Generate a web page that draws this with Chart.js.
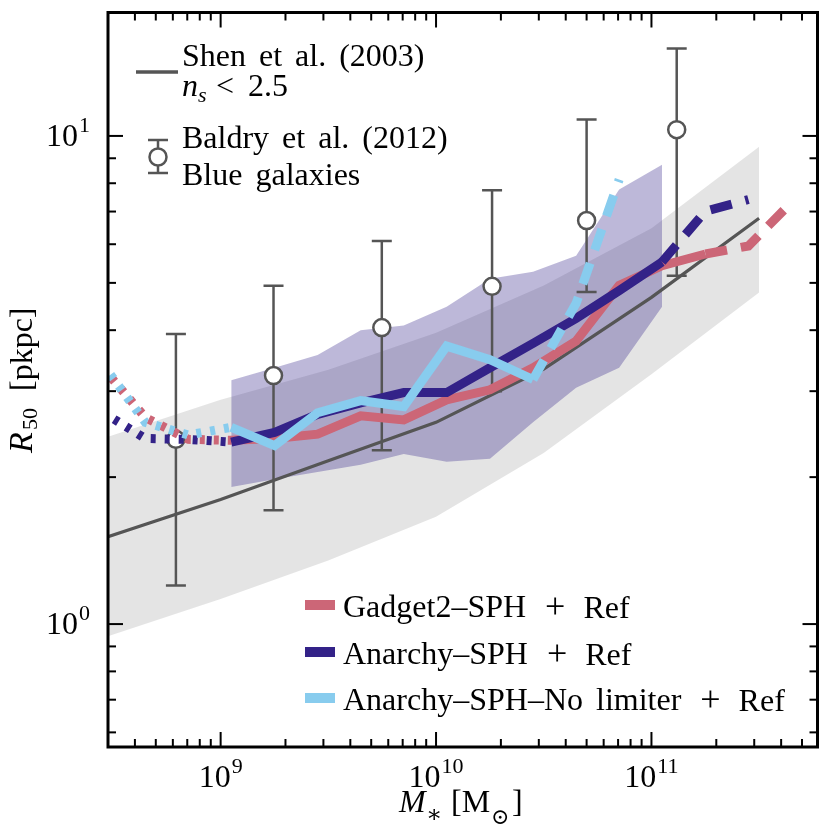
<!DOCTYPE html>
<html>
<head>
<meta charset="utf-8">
<script src="https://cdn.jsdelivr.net/npm/chart.js@4.4.1/dist/chart.umd.min.js"></script>
<style>
  html, body { margin: 0; padding: 0; background: #fff; }
  #wrap { width: 830px; height: 830px; position: relative; }
</style>
</head>
<body>
<div id="wrap"><canvas id="chart" width="830" height="830"></canvas></div>
<script>
// ---- data ----
// simulation mass bins [Msun], 0.2 dex wide
const massBins   = [2.82e8, 4.47e8, 7.08e8, 1.12e9, 1.78e9, 2.82e9, 4.47e9, 7.08e9, 1.12e10, 1.78e10, 2.82e10, 4.47e10, 7.08e10, 1.12e11, 1.78e11, 2.82e11, 4.47e11];
const gadgetR50  = [3.36, 2.65, 2.39, 2.38, 2.40, 2.45, 2.67, 2.62, 2.88, 3.02, 3.35, 3.80, 4.94, 5.42, 5.73, 5.95, 7.31];
const anarchyR50 = [2.72, 2.40, 2.39, 2.36, 2.47, 2.69, 2.84, 2.98, 2.98, 3.35, 3.76, 4.23, 4.82, 5.52, 7.01, 7.41, null];
const noLimR50   = [3.42, 2.59, 2.44, 2.53, 2.32, 2.71, 2.87, 2.79, 3.71, 3.48, 3.17, 4.54, 8.14, null, null, null, null];
const seriesNames = ['Gadget2–SPH', 'Anarchy–SPH', 'Anarchy–SPH–No limiter'];

// scatter band of the Anarchy run
const bandMass = [1.12e9, 1.78e9, 2.82e9, 4.47e9, 7.08e9, 1.12e10, 1.78e10, 2.82e10, 4.47e10, 7.08e10, 1.12e11];
const bandHi   = [3.16, 3.35, 3.56, 4.00, 4.09, 4.47, 5.10, 5.27, 5.68, 7.77, 8.73];
const bandLo   = [1.91, 1.98, 2.05, 2.12, 2.23, 2.15, 2.18, 2.59, 3.05, 3.35, 4.47];

// Shen et al. (2003), n_s < 2.5, with its scatter
const shenMass = [3.0e8, 1e9, 3.16e9, 1e10, 3.16e10, 1e11, 3.16e11];
const shenR50  = [1.51, 1.80, 2.16, 2.59, 3.33, 4.67, 6.78];
const shenHi   = [2.42, 2.88, 3.32, 3.95, 4.94, 6.47, 9.50];
const shenLo   = [0.944, 1.125, 1.35, 1.66, 2.24, 3.25, 4.78];

// Baldry et al. (2012), blue galaxies
const baldryMass = [6.2e8, 1.76e9, 5.6e9, 1.82e10, 5.0e10, 1.31e11];
const baldryR50  = [2.39, 3.23, 4.05, 4.92, 6.71, 10.3];
const baldryLo   = [1.20, 1.71, 2.27, 3.0, 4.79, 5.17];
const baldryHi   = [3.93, 4.93, 6.09, 7.74, 10.8, 15.1];

const xTickExp = [9, 10, 11];
const yTickExp = [0, 1];

// ---- styling ----
const RED = '#cc6677', NAVY = '#332288', SKY = '#88ccee', GREY = '#555555';
const SERIF = '"Liberation Serif", "DejaVu Serif", serif';
const DOT = [5, 9], DASH = [22, 14];

const pts = (xs, ys) => xs.map((x, i) => ({ x, y: ys[i] }));

// dotted below the resolution limit, dashed where bins get sparse
function dashFor(solidFrom, solidTo) {
  return ctx => {
    const i = ctx.p0DataIndex;
    if (i < solidFrom) return DOT;
    if (i >= solidTo) return DASH;
    return undefined;
  };
}

function simLine(data, color, order, solidFrom, solidTo) {
  return {
    data, order, borderColor: color, borderWidth: 9,
    pointRadius: 0, tension: 0, fill: false, clip: 0,
    borderCapStyle: 'butt', borderJoinStyle: 'miter', spanGaps: false,
    segment: { borderDash: dashFor(solidFrom, solidTo) }
  };
}

const errPts = [];
baldryMass.forEach((m, i) => {
  errPts.push({ x: m, y: baldryLo[i] }, { x: m, y: baldryHi[i] }, { x: m, y: null });
});

function logTicks(min, max) {
  const out = [];
  for (let e = Math.floor(Math.log10(min)); e <= Math.ceil(Math.log10(max)); e++) {
    for (let k = 1; k < 10; k++) {
      const v = k * Math.pow(10, e);
      if (v > min * 1.002 && v < max * 0.998) out.push({ v, major: k === 1 });
    }
  }
  return out;
}

function seg(ctx, x0, y0, x1, y1) {
  ctx.beginPath(); ctx.moveTo(x0, y0); ctx.lineTo(x1, y1); ctx.stroke();
}

const font = (size, italic) => `${italic ? 'italic ' : ''}${size}px ${SERIF}`;

// parts: {t, size, italic, dy, gap}
function richWidth(ctx, parts) {
  let w = 0;
  parts.forEach(p => {
    ctx.font = font(p.size, p.italic);
    w += ctx.measureText(p.t).width + (p.gap || 0);
  });
  return w;
}
function drawRich(ctx, parts, x, y) {
  let cx = x;
  parts.forEach(p => {
    ctx.font = font(p.size, p.italic);
    ctx.fillText(p.t, cx, y + (p.dy || 0));
    cx += ctx.measureText(p.t).width + (p.gap || 0);
  });
  return cx;
}
// TeX-like text: spaces a bit wider than the font's own
function drawWords(ctx, text, x, y, size) {
  ctx.font = font(size);
  const sp = ctx.measureText(' ').width + 5;
  let cx = x;
  text.split(' ').forEach(w => {
    ctx.fillText(w, cx, y);
    cx += ctx.measureText(w).width + sp;
  });
  return cx - sp;
}
const pow10 = e => [{ t: '10', size: 32, gap: 1 }, { t: String(e), size: 22, dy: -14 }];

const decor = {
  id: 'decor',
  afterDraw(chart) {
    const { ctx, chartArea: a, scales: { x, y } } = chart;
    ctx.save();
    ctx.strokeStyle = '#000';
    ctx.fillStyle = '#000';
    ctx.textBaseline = 'alphabetic';
    ctx.textAlign = 'left';

    // inward ticks on all four sides
    ctx.lineWidth = 2;
    logTicks(x.min, x.max).forEach(t => {
      const px = x.getPixelForValue(t.v), len = t.major ? 15 : 8;
      seg(ctx, px, a.bottom, px, a.bottom - len);
      seg(ctx, px, a.top, px, a.top + len);
    });
    logTicks(y.min, y.max).forEach(t => {
      const py = y.getPixelForValue(t.v), len = t.major ? 15 : 8;
      seg(ctx, a.left, py, a.left + len, py);
      seg(ctx, a.right, py, a.right - len, py);
    });
    ctx.lineWidth = 3;
    ctx.strokeRect(a.left, a.top, a.right - a.left, a.bottom - a.top);

    // tick labels
    xTickExp.forEach(e => {
      const parts = pow10(e);
      const px = x.getPixelForValue(Math.pow(10, e));
      drawRich(ctx, parts, px - richWidth(ctx, parts) / 2, a.bottom + 40);
    });
    yTickExp.forEach(e => {
      const parts = pow10(e);
      const py = y.getPixelForValue(Math.pow(10, e));
      drawRich(ctx, parts, a.left - 18 - richWidth(ctx, parts), py + 10);
    });

    // axis titles
    ctx.font = font(32, true);
    ctx.fillText('M', 399, 812);
    ctx.font = font(24);
    ctx.fillText('∗', 426, 822);
    ctx.font = font(32);
    ctx.fillText('[M', 451, 812);
    ctx.font = font(22);
    ctx.fillText('⊙', 491, 824);
    ctx.font = font(32);
    ctx.fillText(']', 512, 812);

    ctx.save();
    ctx.translate(32, 453);
    ctx.rotate(-Math.PI / 2);
    ctx.font = font(34, true);
    ctx.fillText('R', 0, 0);
    ctx.font = font(22);
    ctx.fillText('50', 23, 5);
    ctx.font = font(32);
    ctx.fillText('[pkpc]', 62, 0);
    ctx.restore();

    // top-left legend
    ctx.strokeStyle = GREY;
    ctx.lineWidth = 3.5;
    seg(ctx, 136, 72, 178, 72);
    drawWords(ctx, 'Shen et al. (2003)', 182, 66, 32);
    drawRich(ctx, [{ t: 'n', size: 32, italic: true }, { t: 's', size: 22, italic: true, dy: 6 }], 182, 96);
    drawRich(ctx, [{ t: '<', size: 32 }], 216, 96);
    drawRich(ctx, [{ t: '2.5', size: 32 }], 248, 96);

    ctx.lineWidth = 2.5;
    seg(ctx, 158, 140, 158, 173);
    seg(ctx, 148, 140, 168, 140);
    seg(ctx, 148, 173, 168, 173);
    ctx.beginPath();
    ctx.arc(158, 157, 8.5, 0, Math.PI * 2);
    ctx.fillStyle = '#fff';
    ctx.fill();
    ctx.stroke();
    ctx.fillStyle = '#000';
    drawWords(ctx, 'Baldry et al. (2012)', 182, 148, 32);
    drawWords(ctx, 'Blue galaxies', 182, 185, 32);

    // bottom-right legend
    const colors = [RED, NAVY, SKY];
    const rowsY = [605, 652, 698];
    seriesNames.forEach((name, i) => {
      ctx.strokeStyle = colors[i];
      ctx.lineWidth = 10;
      seg(ctx, 305, rowsY[i], 335, rowsY[i]);
      const end = drawWords(ctx, name, 343, rowsY[i] + 12, 32);
      drawRich(ctx, [
        { t: '+', size: 36, gap: 18 },
        { t: 'Ref', size: 32 }
      ], end + 19, rowsY[i] + 13);
    });
    ctx.restore();
  }
};

new Chart(document.getElementById('chart'), {
  type: 'line',
  data: {
    datasets: [
      simLine(pts(massBins, noLimR50), SKY, 1, 3, 10),
      simLine(pts(massBins, anarchyR50), NAVY, 2, 3, 13),
      simLine(pts(massBins, gadgetR50), RED, 3, 3, 14),
      {
        data: pts(baldryMass, baldryR50), order: 4, showLine: false, clip: 0,
        pointRadius: 8.5, pointBackgroundColor: '#fff', pointBorderColor: GREY, pointBorderWidth: 2.5
      },
      {
        data: errPts, order: 5, borderColor: GREY, borderWidth: 2.5, spanGaps: false, clip: 0,
        pointStyle: 'line', pointRadius: 10, pointBorderColor: GREY, pointBorderWidth: 2.5
      },
      { data: pts(shenMass, shenR50), order: 6, borderColor: GREY, borderWidth: 3.2, pointRadius: 0, clip: 0 },
      { data: pts(bandMass, bandHi), order: 7, borderWidth: 0, pointRadius: 0, fill: '+1', backgroundColor: 'rgba(51,34,136,0.32)', clip: 0 },
      { data: pts(bandMass, bandLo), order: 8, borderWidth: 0, pointRadius: 0, clip: 0 },
      { data: pts(shenMass, shenHi), order: 9, borderWidth: 0, pointRadius: 0, fill: '+1', backgroundColor: 'rgba(0,0,0,0.105)', clip: 0 },
      { data: pts(shenMass, shenLo), order: 10, borderWidth: 0, pointRadius: 0, clip: 0 }
    ]
  },
  options: {
    responsive: false,
    devicePixelRatio: 1,
    animation: false,
    layout: { padding: { left: 108, top: 7, right: 10, bottom: 83 } },
    plugins: { legend: { display: false }, tooltip: { enabled: false } },
    scales: {
      x: { type: 'logarithmic', min: 3e8, max: 5.9e11, display: false },
      y: { type: 'logarithmic', min: 0.56, max: 17.9, display: false }
    }
  },
  plugins: [decor]
});
</script>
</body>
</html>
